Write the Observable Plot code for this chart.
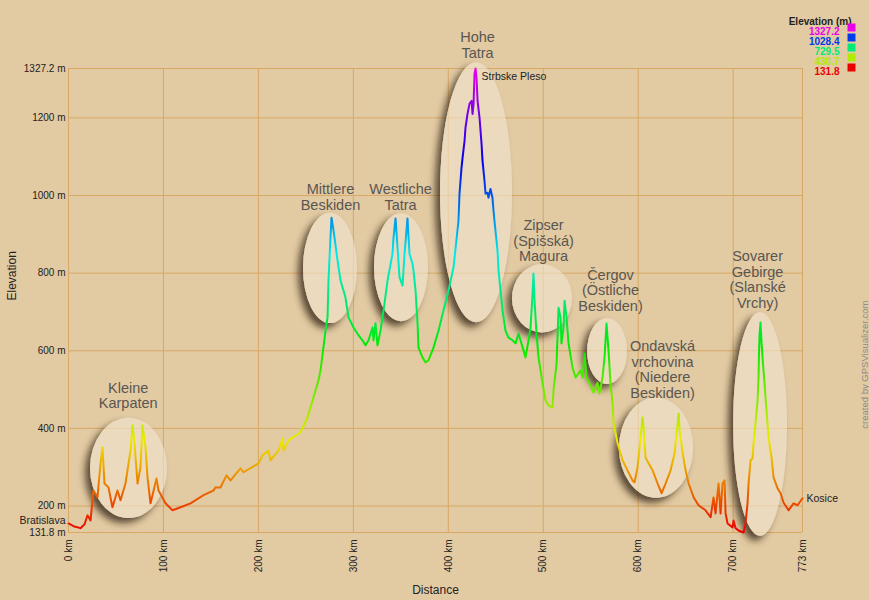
<!DOCTYPE html>
<html><head><meta charset="utf-8">
<script src="https://cdn.jsdelivr.net/npm/d3@7"></script>
<script src="https://cdn.jsdelivr.net/npm/@observablehq/plot@0.6"></script>
<style>
html,body{margin:0;padding:0;background:#E2CAA3;}
#chart svg{display:block;}
</style></head><body><div id="chart"></div>
<script>
// ---- data ----
const profile = [[0,155],[5.3,148],[12.6,143],[16.9,153],[20.0,176],[23.2,163],[26.3,240],[30.5,222],[33.7,310],[35.8,351],
[37.9,258],[42.1,248],[46.3,197],[51.6,240],[54.8,215],[60.0,258],[65.3,343],[67.4,408],[69.5,361],[72.7,258],
[75.8,300],[77.9,408],[81.1,351],[83.2,274],[86.4,207],[92.7,271],[94.8,240],[102.2,207],[109.5,189],[118.0,197],
[128.5,207],[142.2,228],[152.7,240],[154.8,248],[160.1,248],[166.4,279],[170.6,266],[181.1,297],[184.3,287],[200.1,310],
[204.3,331],[210.6,343],[212.7,318],[221.2,343],[225.4,374],[226.4,343],[231.7,369],[244.3,390],[251.7,428],[258.0,480],
[263.3,524],[265.4,549],[270.7,652],[272.8,686],[273.8,781],[275.9,892],[277.0,943],[279.1,910],[280.1,892],[283.3,833],
[286.5,781],[291.7,737],[294.9,686],[300.2,660],[305.4,640],[309.6,627],[312.8,614],[316.0,627],[320.2,660],[321.2,627],
[323.3,671],[325.4,614],[328.6,652],[331.8,704],[336.0,781],[341.2,850],[342.3,892],[344.4,941],[346.5,866],[348.6,789],
[351.8,768],[353.9,850],[357.0,941],[359.1,850],[362.3,824],[363.3,807],[365.5,755],[367.6,670],[368.6,608],[372.8,583],
[376.0,570],[379.1,575],[384.4,608],[389.7,652],[394.9,704],[400.2,755],[405.5,815],[410.7,935],[411.8,1005],[413.9,1072],
[415.0,1097],[417.1,1141],[418.1,1175],[420.2,1210],[422.3,1236],[424.5,1244],[425.5,1210],[426.6,1236],[427.1,1277],[427.6,1313],
[428.7,1327.2],[429.7,1303],[430.8,1244],[432.9,1200],[435.0,1133],[436.0,1090],[438.1,1038],[439.2,1005],[441.3,1007],[442.3,994],
[444.4,1017],[446.5,994],[447.6,961],[448.6,935],[451.8,858],[452.9,807],[455.0,755],[457.1,704],[460.2,652],[463.4,634],
[467.6,627],[470.8,619],[473.9,644],[476.0,627],[479.2,601],[481.3,583],[484.5,627],[486.6,660],[488.7,747],[489.7,799],
[490.8,729],[492.9,644],[495.0,583],[499.2,516],[502.4,472],[505.5,459],[509.7,454],[510.8,498],[514.0,567],[516.1,711],
[518.2,686],[519.2,619],[521.3,660],[522.4,729],[524.5,686],[526.6,619],[530.8,557],[534.0,531],[539.2,549],[541.3,531],
[543.5,593],[545.6,531],[549.8,510],[552.9,492],[557.1,518],[559.2,490],[562.4,531],[564.5,583],[566.6,670],[568.7,601],
[570.8,516],[573.0,464],[574.0,413],[578.2,362],[583.5,318],[588.7,292],[594.0,266],[596.1,261],[599.3,300],[601.4,351],
[604.5,428],[605.6,403],[607.7,325],[610.9,310],[615.1,292],[620.4,258],[624.6,233],[628.8,258],[634.1,292],[638.3,336],
[640.4,387],[642.6,438],[643.6,395],[646.8,336],[649.9,292],[653.1,258],[658.4,222],[663.5,202],[670.9,189],[676.2,171],
[679.3,222],[681.4,181],[684.6,258],[686.7,181],[688.8,258],[690.9,266],[692.0,181],[694.1,155],[699.3,145],[700.4,163],
[702.5,143],[705.6,137],[710.9,131.8],[713.0,155],[715.1,207],[716.2,258],[718.3,318],[720.4,323],[721.4,361],[723.5,413],
[725.7,472],[726.7,531],[727.2,593],[727.8,644],[728.8,673],[729.9,619],[730.9,583],[733.0,516],[735.1,446],[737.2,377],
[740.4,326],[742.5,274],[746.7,246],[749.9,233],[753.0,209],[758.3,189],[763.6,207],[767.8,202],[773,220]];

const xTicks = [0,100,200,300,400,500,600,700,773];
const yTicks = [131.8,200,400,600,800,1000,1200,1327.2];
const yDomain = [131.8,1327.2];
const legendValues = [1327.2,1028.4,729.5,430.7,131.8];

const regionLabels = ["Kleine\nKarpaten","Mittlere\nBeskiden","Westliche\nTatra","Hohe\nTatra",
  "Zipser\n(Spišská)\nMagura","Čergov\n(Östliche\nBeskiden)","Ondavská\nvrchovina\n(Niedere\nBeskiden)","Sovarer\nGebirge\n(Slanské\nVrchy)"];
const regionLabelKm = [62.9,275.9,349.7,430.8,500.3,570.8,625.6,725.7];
const regionLabelM = [485,996,996,1387,884,756,552,784];
const ellipseKm = [63.7,275.9,350.7,429.7,499.2,567.7,619.3,728.8];
const ellipseM = [297,812,814,1007,734,598,349,410];
const ellipseRxKm = [40.5,28.4,28.4,37.9,31.6,21,39,28.4];
const ellipseRyM = [129,142,139,335,88,85,129,288];

const placeNames = ["Bratislava","Strbske Pleso","Kosice"];
const placeKm = [0,428.7,773];
const placeM = [131.8,1327.2,220];

// ---- tables ----
const line = profile.map(([km,m]) => ({km, m}));
const regions = regionLabels.map((name,i) => ({name, km: regionLabelKm[i], m: regionLabelM[i]}));
const ovals = ellipseKm.map((km,i) => ({km, m: ellipseM[i], rx: ellipseRxKm[i], ry: ellipseRyM[i]}));
const places = placeNames.map((name,i) => ({name, km: placeKm[i], m: placeM[i]}));

const hue = t => d3.hsl(300*t, 1, 0.46).formatHex();

const defsMark = (index, scales) => {
  const y = scales.y, color = scales.color;
  const defs = d3.create("svg:defs");
  const grad = defs.append("linearGradient").attr("id","elevGrad").attr("gradientUnits","userSpaceOnUse")
    .attr("x1",0).attr("x2",0).attr("y1",y(yDomain[0])).attr("y2",y(yDomain[1]));
  d3.range(0, 1.0001, 0.05).forEach(t => grad.append("stop").attr("offset", t)
    .attr("stop-color", color(yDomain[0] + t*(yDomain[1]-yDomain[0]))));
  const f = defs.append("filter").attr("id","ovalShadow").attr("x","-60%").attr("y","-60%").attr("width","220%").attr("height","220%");
  f.append("feGaussianBlur").attr("in","SourceAlpha").attr("stdDeviation",3.5).attr("result","b");
  f.append("feOffset").attr("in","b").attr("dx",-5).attr("dy",5).attr("result","o");
  f.append("feFlood").attr("flood-color","#2e2010").attr("flood-opacity",0.75).attr("result","fl");
  f.append("feComposite").attr("in","fl").attr("in2","o").attr("operator","in").attr("result","s");
  f.append("feComposite").attr("in","s").attr("in2","SourceAlpha").attr("operator","out").attr("result","so");
  f.append("feColorMatrix").attr("in","SourceGraphic").attr("type","matrix")
    .attr("values","1 0 0 0 0  0 1 0 0 0  0 0 1 0 0  0 0 0 0.6 0").attr("result","g");
  const mg = f.append("feMerge");
  mg.append("feMergeNode").attr("in","so");
  mg.append("feMergeNode").attr("in","g");
  return defs.node();
};

const ovalMark = (index, scales) => {
  const {x, y} = scales;
  const g = d3.create("svg:g");
  ovals.forEach(o => {
    g.append("ellipse")
      .attr("cx", x(o.km)).attr("cy", y(o.m))
      .attr("rx", x(o.km + o.rx) - x(o.km)).attr("ry", y(o.m) - y(o.m + o.ry))
      .attr("fill", "#F1E5CF").attr("filter","url(#ovalShadow)");
  });
  return g.node();
};

const gridColor = "#D8A864";
const legendMarks = legendValues.flatMap((v,i) => [
  Plot.text([v], {text: d => d.toFixed(1), fill: d => d, frameAnchor: "top-right", dx: 37, dy: -41 + i*10,
    textAnchor: "end", fontSize: 10, fontWeight: "bold"}),
  Plot.dot([v], {fill: d => d, symbol: "square", r: 4.5, frameAnchor: "top-right", dx: 49, dy: -41 + i*10})
]);

const chart = Plot.plot({
  width: 869, height: 600,
  marginLeft: 68, marginRight: 67, marginTop: 68, marginBottom: 68,
  style: {fontFamily: "'Liberation Sans', Arial, sans-serif", fontSize: "10px", background: "transparent", color: "#222"},
  x: {domain: [0, 773]},
  y: {domain: yDomain},
  color: {type: "linear", domain: yDomain, interpolate: hue},
  marks: [
    defsMark,
    Plot.gridX({ticks: xTicks, stroke: gridColor, strokeOpacity: 1}),
    Plot.gridY({ticks: yTicks, stroke: gridColor, strokeOpacity: 1}),
    ovalMark,
    Plot.line(line, {x: "km", y: "m", stroke: "url(#elevGrad)", strokeWidth: 2, curve: "linear"}),
    Plot.axisX({ticks: xTicks, tickFormat: d => d + " km", tickRotate: -90, tickSize: 0, tickPadding: 7, label: null, fontSize: 10}),
    Plot.axisY({ticks: yTicks, tickFormat: d => d + " m", tickSize: 0, tickPadding: 3, label: null, fontSize: 10}),
    Plot.text(regions, {x: "km", y: "m", text: "name", fontSize: 14.5, lineHeight: 1.08, fill: "#5a5651"}),
    Plot.text([places[0]], {x: "km", y: "m", text: "name", dx: -3, dy: -12, textAnchor: "end", fontSize: 10.5, fill: "#222"}),
    Plot.text([places[1]], {x: "km", y: "m", text: "name", dx: 6, dy: 8, textAnchor: "start", fontSize: 10.5, fill: "#222"}),
    Plot.text([places[2]], {x: "km", y: "m", text: "name", dx: 4, dy: 0, textAnchor: "start", fontSize: 10.5, fill: "#222"}),
    Plot.text(["Distance"], {frameAnchor: "bottom", dy: 61, fontSize: 12, fill: "#222"}),
    Plot.text(["Elevation"], {frameAnchor: "left", dx: -56, rotate: -90, fontSize: 12, fill: "#222"}),
    Plot.text(["created by GPSVisualizer.com"], {frameAnchor: "right", dx: 62, rotate: -90, fontSize: 9.5, fill: "#8c8c8c"}),
    Plot.text(["Elevation (m)"], {frameAnchor: "top-right", dx: 49, dy: -51, textAnchor: "end", fontSize: 10, fontWeight: "bold", fill: "#222"}),
    ...legendMarks
  ]
});
document.getElementById("chart").appendChild(chart);
</script>
</body></html>
